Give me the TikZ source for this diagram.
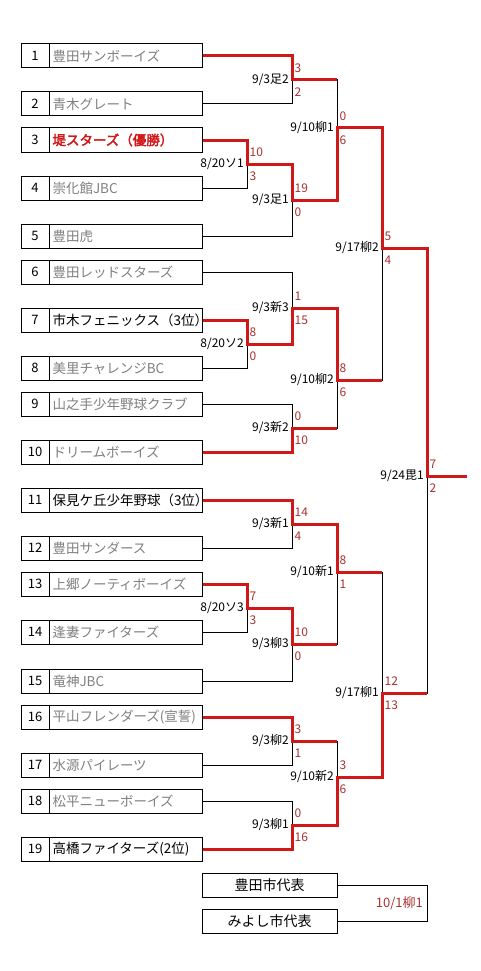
\documentclass[tikz,border=0pt]{standalone}
\usepackage{fontspec}
\setmainfont{Noto Sans CJK JP}
\newfontfamily\jpbold{Noto Sans CJK JP}[FakeBold=2.5]
\usetikzlibrary{calc}
\definecolor{winred}{HTML}{D01818}
\definecolor{scorered}{HTML}{A83232}
\definecolor{namegray}{HTML}{808080}
\begin{document}
\begin{tikzpicture}[x=1pt,y=-1pt,
  numbox/.style={draw, line width=1pt, minimum width=28pt, minimum height=24pt, inner sep=0pt, font=\fontsize{13}{15}\selectfont},
  namebox/.style={draw, line width=1pt, minimum width=153pt, minimum height=24pt, inner xsep=3.5pt, inner ysep=0pt, text width=146pt, align=left, font=\fontsize{13.5}{15}\selectfont},
  gr/.style={text=namegray},
  bk/.style={text=black},
  champ/.style={text=winred, font=\fontsize{13.5}{15}\jpbold},
  thinline/.style={line width=1pt, black},
  winline/.style={line width=3pt, winred, line join=miter},
  score/.style={text=scorered, font=\fontsize{12}{14}\selectfont, inner sep=0pt},
  mlabel/.style={text=black, font=\fontsize{12}{14}\selectfont, inner sep=0pt},
  repbox/.style={draw, line width=1pt, minimum width=135pt, minimum height=24pt, inner sep=0pt, font=\fontsize{14}{16}\selectfont}
]
\useasboundingbox (0,0) rectangle (481,971);
\fill[white] (0,0) rectangle (481,971);

% teams
\foreach \i/\y/\st/\name in {
 1/56/gr/豊田サンボーイズ,
 2/104/gr/青木グレート,
 3/140/champ/堤スターズ（優勝）,
 4/188/gr/崇化館JBC,
 5/236/gr/豊田虎,
 6/272/gr/豊田レッドスターズ,
 7/320/bk/市木フェニックス（3位）,
 8/368/gr/美里チャレンジBC,
 9/404/gr/山之手少年野球クラブ,
 10/452/gr/ドリームボーイズ,
 11/500/bk/保見ケ丘少年野球（3位）,
 12/548/gr/豊田サンダース,
 13/584/gr/上郷ノーティボーイズ,
 14/632/gr/逢妻ファイターズ,
 15/681/gr/竜神JBC,
 16/717/gr/平山フレンダーズ(宣誓),
 17/765/gr/水源パイレーツ,
 18/801/gr/松平ニューボーイズ,
 19/849/bk/高橋ファイターズ(2位)}{
  \node[numbox] (n\i) at (35,\y) {\i};
  \node[namebox,\st] (t\i) at (125.5,\y) {\name};
}

% match join points
\coordinate (A1) at (292,80);
\coordinate (S1) at (247,164);
\coordinate (A2) at (292,200);
\coordinate (Y1) at (337,128);
\coordinate (S2) at (247,344);
\coordinate (N3) at (292,308);
\coordinate (N2) at (292,428);
\coordinate (Y2) at (337,380);
\coordinate (Q1) at (382,248);
\coordinate (F)  at (427,476);
\coordinate (W)  at (467,476);
\coordinate (N1) at (292,524);
\coordinate (S3) at (247,608);
\coordinate (R3) at (292,644);
\coordinate (M1) at (337,572);
\coordinate (R2) at (292,741);
\coordinate (R1) at (292,825);
\coordinate (M2) at (337,777);
\coordinate (Q2) at (382,693);

% thin bracket
\draw[thinline] (t1.east) -| (A1);  \draw[thinline] (t2.east) -| (A1);
\draw[thinline] (t3.east) -| (S1);  \draw[thinline] (t4.east) -| (S1);
\draw[thinline] (S1) -| (A2);       \draw[thinline] (t5.east) -| (A2);
\draw[thinline] (A1) -| (Y1);       \draw[thinline] (A2) -| (Y1);
\draw[thinline] (t7.east) -| (S2);  \draw[thinline] (t8.east) -| (S2);
\draw[thinline] (t6.east) -| (N3);  \draw[thinline] (S2) -| (N3);
\draw[thinline] (t9.east) -| (N2);  \draw[thinline] (t10.east) -| (N2);
\draw[thinline] (N3) -| (Y2);       \draw[thinline] (N2) -| (Y2);
\draw[thinline] (Y1) -| (Q1);       \draw[thinline] (Y2) -| (Q1);
\draw[thinline] (t11.east) -| (N1); \draw[thinline] (t12.east) -| (N1);
\draw[thinline] (t13.east) -| (S3); \draw[thinline] (t14.east) -| (S3);
\draw[thinline] (S3) -| (R3);       \draw[thinline] (t15.east) -| (R3);
\draw[thinline] (N1) -| (M1);       \draw[thinline] (R3) -| (M1);
\draw[thinline] (t16.east) -| (R2); \draw[thinline] (t17.east) -| (R2);
\draw[thinline] (t18.east) -| (R1); \draw[thinline] (t19.east) -| (R1);
\draw[thinline] (R2) -| (M2);       \draw[thinline] (R1) -| (M2);
\draw[thinline] (M1) -| (Q2);       \draw[thinline] (M2) -| (Q2);
\draw[thinline] (Q1) -| (F);        \draw[thinline] (Q2) -| (F);
\draw[thinline] (F) -- (W);

% winning paths
\draw[winline] (t1.east) -| (A1) -- (A1 -| Y1);
\draw[winline] (t3.east) -| (S1) -| (A2) -| (Y1) -| (Q1) -| (F) -- (W);
\draw[winline] (t7.east) -| (S2) -| (N3) -| (Y2) -- (Y2 -| Q1);
\draw[winline] (t10.east) -| (N2) -- (N2 -| Y2);
\draw[winline] (t11.east) -| (N1) -| (M1) -- (M1 -| Q2);
\draw[winline] (t13.east) -| (S3) -| (R3) -- (R3 -| M1);
\draw[winline] (t16.east) -| (R2) -- (R2 -| M2);
\draw[winline] (t19.east) -| (R1) -| (M2) -| (Q2) -- (Q2 -| F);

% scores and match labels
\foreach \m/\lab/\up/\dn in {
 A1/9\slash 3足2/3/2,
 S1/8\slash 20ソ1/10/3,
 A2/9\slash 3足1/19/0,
 Y1/9\slash 10柳1/0/6,
 S2/8\slash 20ソ2/8/0,
 N3/9\slash 3新3/1/15,
 N2/9\slash 3新2/0/10,
 Y2/9\slash 10柳2/8/6,
 Q1/9\slash 17柳2/5/4,
 F/9\slash 24毘1/7/2,
 N1/9\slash 3新1/14/4,
 S3/8\slash 20ソ3/7/3,
 R3/9\slash 3柳3/10/0,
 M1/9\slash 10新1/8/1,
 R2/9\slash 3柳2/3/1,
 R1/9\slash 3柳1/0/16,
 M2/9\slash 10新2/3/6,
 Q2/9\slash 17柳1/12/13}{
  \node[score, anchor=west] (su\m) at ($(\m)+(2.5,-12)$) {\up};
  \node[score, anchor=west] (sd\m) at ($(\m)+(2.5,12)$) {\dn};
  \node[mlabel, anchor=east] (l\m) at ($(\m)+(-3,0)$) {\lab};
}

% representatives
\node[repbox] (b1) at (269.5,885) {豊田市代表};
\node[repbox] (b2) at (269.5,921) {みよし市代表};
\coordinate (G1) at (427,885);
\coordinate (G2) at (427,921);
\draw[thinline] (b1.east) -- (G1) -- (G2) -- (b2.east);
\node[score, font=\fontsize{13}{15}\selectfont, anchor=east] (gl) at ($(G1)!0.5!(G2)+(-4,0)$) {10/1柳1};
\end{tikzpicture}
\end{document}
